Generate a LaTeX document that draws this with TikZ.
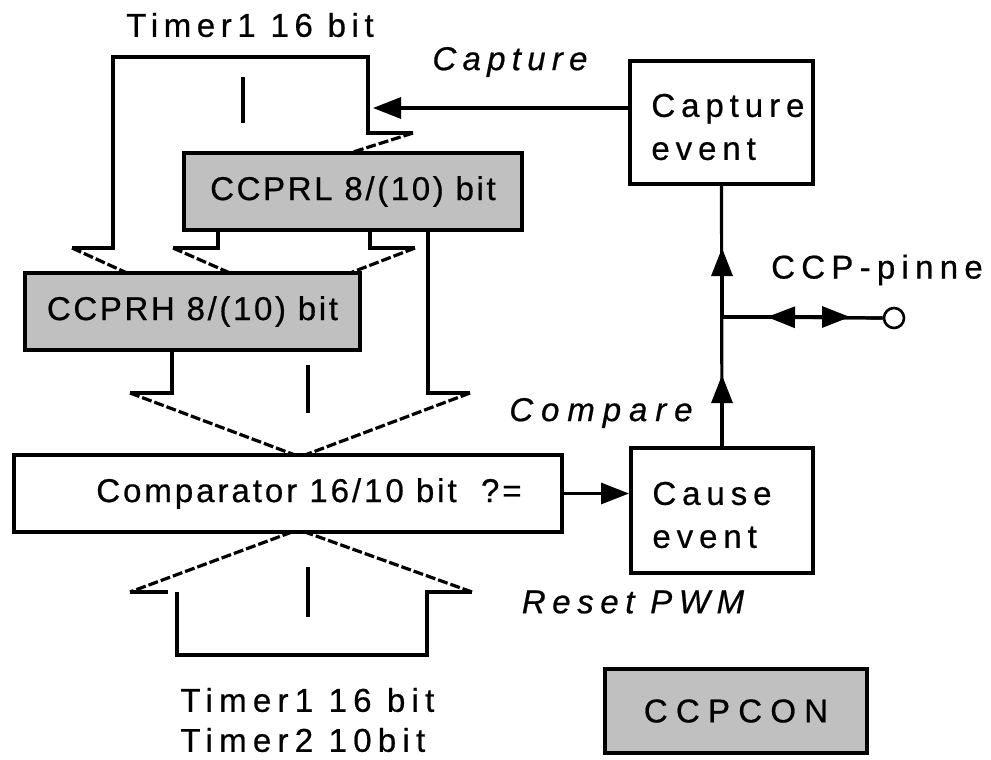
\documentclass[tikz,border=0pt]{standalone}
\usepackage{fontspec}
\setmainfont{Liberation Sans}
\usetikzlibrary{arrows.meta}
\definecolor{boxgray}{HTML}{C0C0C0}
\newcommand\lsp[2]{{\addfontfeature{LetterSpace=#1,FakeBold=0.6}#2}}
\begin{document}
\begin{tikzpicture}[x=0.5pt,y=-0.5pt,
  ln/.style={line width=1.6pt},
  dsh/.style={line width=1.6pt, dash pattern=on 5pt off 1.5pt},
  box/.style={draw, line width=2pt, inner sep=0pt, font=\fontsize{16.5pt}{19pt}\selectfont},
  lbl/.style={inner sep=0pt, font=\fontsize{16.5pt}{19pt}\selectfont},
  tip/.style={line width=1.6pt, -{Triangle[length=14pt,width=10.5pt]}}
]
\useasboundingbox (0,0) rectangle (991,760);
% ---- top Timer1 block arrow
\node[lbl] (t1top) at (250,25) {\lsp{17}{Timer1 16 bit}};
\draw[ln] (72,248) -- (113,248) -- (113,57) -- (368,57) -- (368,133) -- (413,133);
\draw[dsh] (413,133) -- (350,153);
\draw[dsh] (72,248) -- (127,273);
\draw[ln] (243,77) -- (243,123);
% ---- arrows below CCPRL
\draw[ln] (173,248) -- (218,248) -- (218,230);
\draw[dsh] (173,248) -- (230,273);
\draw[ln] (370,230) -- (370,248) -- (415,248);
\draw[dsh] (415,248) -- (350,273);
\draw[ln] (428,230) -- (428,393) -- (470,393);
\draw[dsh] (470,393) -- (305,455);
% ---- arrows below CCPRH
\draw[ln] (172,350) -- (172,393) -- (130,393);
\draw[dsh] (130,393) -- (295,455);
\draw[ln] (308,365) -- (308,413);
% ---- bottom Timer block arrow
\draw[dsh] (292,532) -- (130,592);
\draw[ln] (130,592) -- (168,592);
\draw[ln] (177,592) -- (177,655) -- (427,655) -- (427,592) -- (472,592);
\draw[dsh] (472,592) -- (305,532);
\draw[ln] (308,567) -- (308,617);
\node[lbl, anchor=west] (tb1) at (180,700) {\lsp{19}{Timer1 16 bit}};
\node[lbl, anchor=west] (tb2) at (180,740) {\lsp{19}{Timer2 10bit}};
% ---- register boxes
\node[box, fill=boxgray, minimum width=169pt, minimum height=38.5pt] (ccprl) at (353,191.5) {\lsp{8}{CCPRL 8/(10) bit}};
\node[box, fill=boxgray, minimum width=167.5pt, minimum height=38.5pt] (ccprh) at (192.5,311.5) {\lsp{8}{CCPRH 8/(10) bit}};
\node[box, fill=white, minimum width=274pt, minimum height=38.5pt] (cmp) at (288,493.5) {\hspace{21pt}\lsp{9}{Comparator 16/10 bit~~?=}};
\node[box, fill=boxgray, minimum width=131pt, minimum height=42pt] (ccpcon) at (736,711) {\lsp{25}{CCPCON}};
% ---- event boxes
\node[box, minimum width=91.5pt, minimum height=61.5pt] (capbox) at (721.5,122.5) {};
\node[lbl, anchor=west, align=left, font=\fontsize{16.5pt}{21.5pt}\selectfont] (captxt) at (651,127) {\lsp{18}{Capture}\\\lsp{18}{event}};
\node[box, minimum width=91pt, minimum height=62.5pt] (causebox) at (722,510.5) {};
\node[lbl, anchor=west, align=left, font=\fontsize{16.5pt}{21.5pt}\selectfont] (causetxt) at (652,515) {\lsp{18}{Cause}\\\lsp{18}{event}};
% ---- labels
\node[lbl] (capl) at (510,62) {\itshape\lsp{19}{Capture}};
\node[lbl] (cmpl) at (601,413) {\itshape\lsp{24}{Compare}};
\node[lbl] (rstl) at (633,602) {\itshape\lsp{20}{Reset PWM}};
\node[lbl] (pinl) at (877,270) {\lsp{19}{CCP-pinne}};
% ---- connectors
\coordinate (capin) at (373,108);
\draw[tip] (capbox.west |- capin) -- (capin);
\draw[tip] (cmp.east) -- (cmp.east -| causebox.west);
\coordinate (j) at (722,317);
\coordinate (up1) at (722,248);
\coordinate (up2) at (722,375);
\coordinate (l1) at (767,317);
\coordinate (r1) at (850,317);
\node[draw, circle, line width=1.3pt, minimum size=10pt, inner sep=0pt] (pin) at (894,318) {};
\draw[ln] (capbox.south) -- (causebox.north);
\draw[tip] (j) -- (up1);
\draw[tip] (causebox.north) -- (up2);
\draw[ln] (j) -- (pin.west);
\draw[tip] (pin.west) -- (l1);
\draw[tip] (j) -- (r1);
\end{tikzpicture}
\end{document}
